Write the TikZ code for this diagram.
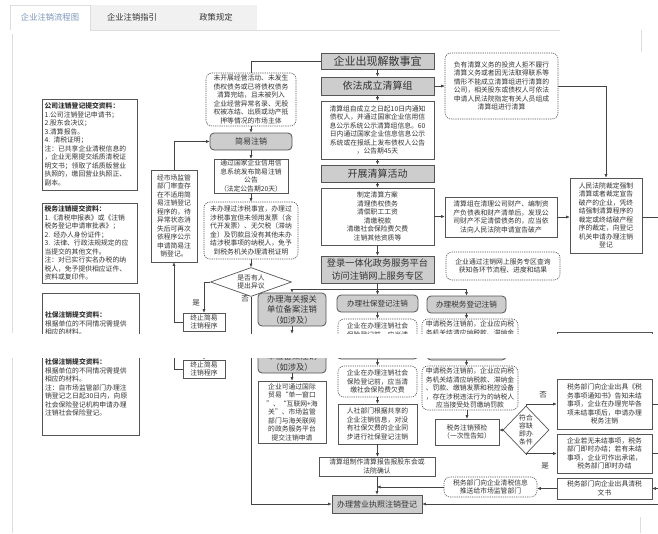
\documentclass[tikz,border=0pt]{standalone}
\usepackage{fontspec}
\setmainfont{Noto Sans CJK SC}
\usetikzlibrary{arrows.meta,shapes.geometric}
\definecolor{bd}{HTML}{555555}
\definecolor{gf}{HTML}{CDCDCD}
\definecolor{tx}{HTML}{333333}
\definecolor{lc}{HTML}{444444}
\definecolor{tabblue}{HTML}{7A93B8}
\definecolor{tabgray}{HTML}{F1F1F1}
\definecolor{frm}{HTML}{DDDDDD}
\tikzset{
 ln/.style={draw=lc, line width=0.6pt},
 arr/.style={ln, -{Latex[length=3.5pt,width=3.2pt]}},
 base/.style={inner sep=0pt, align=center, text=tx, font=\fontsize{6.8}{8.5}\selectfont},
 wbox/.style={base, draw=bd, fill=white, line width=0.7pt},
 lbox/.style={wbox, align=left},
 gbox/.style={base, draw=bd, fill=gf, line width=0.8pt},
 rgbox/.style={gbox, rounded corners=4pt},
 dbox/.style={base, draw=bd, fill=white, line width=0.6pt, dash pattern=on 1.2pt off 1pt, rounded corners=6pt},
 fbig/.style={font=\fontsize{11}{13}\selectfont},
 fbig2/.style={font=\fontsize{10}{12}\selectfont},
 fbig3/.style={font=\fontsize{9.2}{12.5}\selectfont},
 fmid/.style={font=\fontsize{8}{10}\selectfont},
 lab/.style={base, font=\fontsize{7.5}{9}\selectfont},
 lineL/.style={base, align=left},
 lineC/.style={base},
 dia9/.style={base, draw=bd, fill=white, line width=0.7pt, diamond, aspect=2.8, minimum width=81pt, minimum height=29pt},
 dia29/.style={base, draw=bd, fill=white, line width=0.7pt, diamond, aspect=1, minimum width=46pt, minimum height=48pt, font=\fontsize{6.8}{8}\selectfont},
 tabtxt/.style={inner sep=0pt, font=\fontsize{8.3}{10}\selectfont, text=tx},
 frame/.style={draw=frm, line width=0.6pt},
}
% visible band of the current screenshot piece (in flowchart coordinates)
\def\visA{0}\def\visB{333}
\newcommand{\bx}[7]{%
  \pgfmathsetmacro{\bw}{#5-#3}%
  \pgfmathsetmacro{\bh}{#6-#4}%
  \pgfmathsetmacro{\tw}{#5-#3-5}%
  \pgfmathparse{or(#6<\visA,#4>\visB)}%
  \ifdim\pgfmathresult pt>0.5pt
    \node[#2, minimum width=\bw pt, minimum height=\bh pt, text width=\tw pt] (#1) at ({(#3+#5)/2},{(#4+#6)/2}) {};%
  \else
    \node[#2, minimum width=\bw pt, minimum height=\bh pt, text width=\tw pt] (#1) at ({(#3+#5)/2},{(#4+#6)/2}) {#7};%
  \fi}
% box whose text lines are set one by one (only the lines inside the visible band)
\newcommand{\pbx}[9]{% name, box style, x1, y1, x2, y2, line style, line spacing, lines
  \pgfmathsetmacro{\bw}{#5-#3}%
  \pgfmathsetmacro{\bh}{#6-#4}%
  \pgfmathsetmacro{\tw}{#5-#3-6}%
  \pgfmathsetmacro{\cx}{(#3+#5)/2}%
  \pgfmathsetmacro{\cy}{(#4+#6)/2}%
  \node[#2, minimum width=\bw pt, minimum height=\bh pt] (#1) at (\cx,\cy) {};%
  \foreach \t [count=\i] in {#9} {\xdef\nlines{\i}}%
  \foreach \t [count=\i] in {#9} {%
    \pgfmathsetmacro{\ly}{\cy+(\i-(\nlines+1)/2)*#8}%
    \pgfmathparse{and(\ly>\visA-3,\ly<\visB+4)}%
    \ifdim\pgfmathresult pt>0.5pt
      \node[#7, text width=\tw pt] (#1-\i) at (\cx,\ly) {\t};%
    \fi}%
}
\newcommand{\vnode}[7]{% style, name, x, y, y1, y2, text
  \pgfmathparse{or(#6<\visA,#5>\visB)}%
  \ifdim\pgfmathresult pt>0.5pt
    \node[#1] (#2) at (#3,#4) {};%
  \else
    \node[#1] (#2) at (#3,#4) {#7};%
  \fi}
\newcommand{\myflow}{%
  % left materials
  \bx{n1}{lbox}{42}{99}{137}{190}{{\bfseries 公司注销登记提交资料：}\\1.公司注销登记申请书；\\2.股东会决议；\\3.清算报告。\\4. 清税证明；\\注：已共享企业清税信息的\\，企业无需提交纸质清税证\\明文书；领取了纸质版营业\\执照的，缴回营业执照正、\\副本。}
  \bx{n2}{lbox}{42}{203}{137}{283}{{\bfseries 税务注销提交资料：}\\1.《清税申报表》或《注销\\税务登记申请审批表》；\\2. 经办人身份证件；\\3. 法律、行政法规规定的应\\当提交的其他文件。\\注：对已实行实名办税的纳\\税人，免予提供相应证件、\\资料或复印件。}
  \pbx{n3}{lbox}{42}{293}{139}{388}{lineL}{8.5}{{\bfseries 社保注销提交资料：},根据单位的不同情况需提供,相应的材料。,注：自市场监管部门办理注,销登记之日起30日内，向原,社会保险登记机构申请办理,注销社会保险登记。}
  % simple deregistration
  \bx{n4}{wbox}{151}{170}{197}{262}{经市场监管\\部门审查存\\在不适用简\\易注销登记\\程序的，待\\异常状态消\\失后可再次\\依程序公示\\申请简易注\\销登记。}
  \bx{n5}{dbox}{206}{73}{296}{126}{未开展经营活动、未发生\\债权债务或已将债权债务\\清算完结，且未被列入\\企业经营异常名录、无股\\权被冻结、出质或动产抵\\押等情况的市场主体}
  \bx{n6}{rgbox,fmid}{210}{133}{292}{150}{简易注销}
  \bx{n7}{wbox}{214}{159}{288}{193}{通过国家企业信用信\\息系统发布简易注销\\公告\\（法定公告期20天）}
  \bx{n8}{dbox}{204}{202}{298}{259}{未办理过涉税事宜，办理过\\涉税事宜但未领用发票（含\\代开发票）、无欠税（滞纳\\金）及罚款且没有其他未办\\结涉税事项的纳税人，免予\\到税务机关办理清税证明}
  \vnode{dia9}{d9}{251}{282}{267}{296}{是否有人\\提出异议}
  \bx{n10}{wbox}{183}{313}{225}{331}{终止简易\\注销程序}
  % main column
  \bx{n11}{gbox,fbig}{321}{53}{434}{69}{企业出现解散事宜}
  \bx{n12}{gbox,fbig2}{321}{77}{434}{95}{依法成立清算组}
  \bx{n13}{wbox}{321}{101}{434}{159}{清算组自成立之日起10日内通知\\债权人，并通过国家企业信用信\\息公示系统公示清算组信息。60\\日内通过国家企业信息信息公示\\系统或在报纸上发布债权人公告\\，公告期45天}
  \bx{n14}{gbox,fbig2}{321}{165}{434}{182}{开展清算活动}
  \bx{n15}{wbox}{321}{188}{434}{245}{制定清算方案\\清理债权债务\\清偿职工工资\\清缴税款\\清缴社会保险费欠费\\注销其他资质等}
  \bx{n16}{gbox,fbig3}{321}{256}{434}{283}{登录一体化政务服务平台\\访问注销网上服务专区}
  \bx{n17}{dbox}{445}{53}{558}{119}{负有清算义务的投资人拒不履行\\清算义务或者因无法取得联系等\\情形不能成立清算组进行清算的\\公司，相关股东或债权人可依法\\申请人民法院指定有关人员组成\\清算组进行清算}
  \bx{n18}{wbox}{445}{197}{557}{237}{清算组在清理公司财产、编制资\\产负债表和财产清单后，发现公\\司财产不足清偿债务的，应当依\\法向人民法院申请宣告破产}
  \bx{n19}{wbox}{570}{178}{642}{253}{人民法院裁定强制\\清算或者裁定宣告\\破产的企业，凭终\\结强制清算程序的\\裁定或终结破产程\\序的裁定，向登记\\机关申请办理注销\\登记}
  \bx{n20}{dbox}{446}{252}{560}{280}{企业通过注销网上服务专区查询\\获知各环节流程、进度和结果}
  \bx{n21}{rgbox,font=\fontsize{8.3}{10.5}\selectfont}{258}{293}{326}{326}{办理海关报关\\单位备案注销\\（如涉及）}
  \bx{n22}{rgbox,font=\fontsize{7.6}{9}\selectfont}{337}{295}{418}{312}{办理社保登记注销}
  \bx{n23}{rgbox,font=\fontsize{7.6}{9}\selectfont}{427}{296}{506}{313}{办理税务登记注销}
  \pbx{n24}{dbox}{338}{319}{417}{350}{lineC}{8.5}{企业在办理注销社会,保险登记前，应当清,缴社会保险费欠费}
  \pbx{n25}{dbox}{422}{319}{518}{363}{lineC}{8.5}{申请税务注销前，企业应向税,务机关结清应纳税款、滞纳金,、罚款、缴销发票和税控设备,，存在涉税违法行为的纳税人,应当接受处罚缴纳罚款}
  \bx{n26}{wbox}{258}{334}{326}{396}{企业可通过国际\\贸易“单一窗口\\”、“互联网+海\\关”、市场监管\\部门与海关联网\\的政务服务平台\\提交注销申请}
  \bx{n27}{wbox}{338}{357}{417}{397}{人社部门根据共享的\\企业注销信息，对没\\有社保欠费的企业同\\步进行社保登记注销}
  \bx{n28}{wbox}{435}{372}{499}{398}{税务注销预检\\（一次性告知）}
  \vnode{dia29}{d29}{526}{383}{359}{407}{符合\\容缺\\即办\\条件}
  \bx{n30}{wbox}{557}{332}{652}{382}{税务部门向企业出具《税\\务事项通知书》告知未结\\事项，企业在办理完毕各\\项未结事项后，申请办理\\税务注销}
  \bx{n31}{wbox}{557}{387}{652}{426}{企业若无未结事项，税务\\部门即时办结；若有未结\\事项，企业可作出承诺，\\税务部门即时办结}
  \bx{n32}{wbox}{557}{431}{652}{452}{税务部门向企业出具清税\\文书}
  \bx{n33}{dbox}{444}{430}{537}{450}{税务部门向企业清税信息\\推送给市场监管部门}
  \bx{n34}{wbox}{319}{410}{435}{429}{清算组制作清算报告报股东会或\\法院确认}
  \bx{n35}{gbox,fmid}{332}{448}{422}{466}{办理营业执照注销登记}
  \coordinate (eR) at (658,0);
  % connectors: main column
  \draw[ln] (n11.west) -| (n5.north);
  \draw[arr] (n11) -- (n12);
  \draw[arr] (n12) -- (n13);
  \draw[arr] (n13) -- (n14);
  \draw[arr] (n14) -- (n15);
  \draw[arr] (n15) -- (n16);
  \draw[arr] (n12.east) -- (n12.east -| n17.west);
  \draw[arr] (n17.east) -| (n19.north);
  \draw[arr] (n15.east) -- (n15.east -| n18.west);
  \draw[arr] (n18.east) -- (n18.east -| n19.west);
  \draw[ln] (n18.east -| n19.east) -- (n18.east -| eR);
  % simple deregistration
  \draw[arr] (n5) -- (n6);
  \draw[arr] (n6) -- (n7);
  \draw[arr] (n7) -- (n8);
  \draw[arr] (n8) -- (d9);
  \draw[arr] (d9.west) -| (n10.north);
  \draw[arr] (n10.west) -| (n4.south);
  \draw[arr] (n4.north) |- (n6.west);
  \draw[arr] (d9.south) |- (n35.west);
  \vnode{lab}{l1}{196}{303}{297}{309}{是}
  \vnode{lab}{l2}{245}{299}{293}{305}{否}
  % platform branches
  \draw[ln] (n16.south) -- ++(0,6) coordinate (j1);
  \draw[ln] (j1 -| n21.north) -- (j1 -| n23.north);
  \draw[arr] (j1 -| n21.north) -- (n21.north);
  \draw[arr] (j1 -| n22.north) -- (n22.north);
  \draw[arr] (j1 -| n23.north) -- (n23.north);
  \draw[arr] (n21) -- (n26);
  \draw[arr] (n22) -- (n24);
  \draw[arr] (n24) -- (n27);
  \draw[arr] (n27) -- (n27.south |- n34.north);
  \draw[arr] (n23.south) -- (n23.south |- n25.north);
  \draw[arr] (n28.north |- n25.south) -- (n28.north);
  \draw[arr] (d29.west) -- (d29.west -| n28.east);
  \draw[arr] (d29.north) |- (n30.west);
  \draw[arr] (d29.south) |- (n31.west);
  \vnode{lab}{l3}{543}{348}{342}{354}{否}
  \vnode{lab}{l4}{545}{419}{413}{425}{是}
  \draw[ln] (n30.east) -- (n30.east -| eR);
  \draw[ln] (n31.east) -- (n31.east -| eR);
  \draw[arr] (n32.east -| eR) -- (n32.east);
  \draw[arr] (n32.west) -- (n32.west -| n33.east);
  \draw[arr] (n33.west) -- (n33.west -| n34.south);
  \draw[arr] (n34.south) -- (n35.north);
  \draw[arr] (n35.east -| eR) -- (n35.east);
}
\begin{document}
\begin{tikzpicture}[x=1pt,y=-1pt]
  \useasboundingbox[fill=white] (0,0) rectangle (658,533);
  % tab header
  \fill[tabgray] (90,5) rectangle (257,30);
  \draw[frame] (10,30) -- (10,5) -- (90,5) -- (90,30);
  \draw[frame] (90,30) -- (560,30);
  \node[tabtxt, text=tabblue] (t1) at (50,17) {企业注销流程图};
  \node[tabtxt] (t2) at (132,17) {企业注销指引};
  \node[tabtxt] (t3) at (216,17) {政策规定};
  % page frame
  \draw[frame] (12,34) -- (12,333);
  \draw[frame] (12,358) -- (12,533);
  \draw[frame] (641,30) -- (641,52);
  \draw[frame] (640,517) -- (640,533);
  % upper screenshot piece
  \begin{scope}
    \def\visA{0}\def\visB{333}%
    \clip (0,0) rectangle (658,333);
    \myflow
  \end{scope}
  % lower screenshot piece (the same chart, scrolled by 47 px)
  \begin{scope}[yshift=-47pt]
    \def\visA{311}\def\visB{486}%
    \clip (0,311) rectangle (658,486);
    \myflow
  \end{scope}
\end{tikzpicture}
\end{document}
